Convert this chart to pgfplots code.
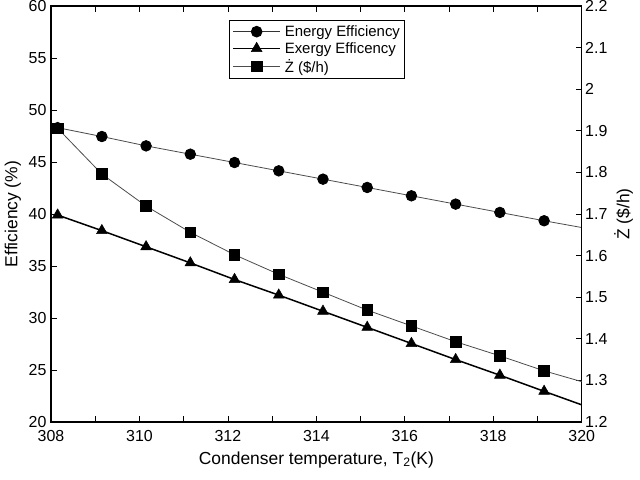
\documentclass[border=0pt]{standalone}
\usepackage{pgfplots}
\pgfplotsset{compat=1.18}
\usepackage{fontspec}
\setmainfont{Liberation Sans}
\begin{document}
\begin{tikzpicture}
\pgfplotsset{
  every axis/.append style={
    scale only axis, width=530.7bp, height=416bp,
    at={(0,0)}, anchor=south west,
    xmin=308, xmax=320,
    tick align=inside,
    major tick length=6bp, minor tick length=6bp,
    tick style={black, line width=0.8bp},
    axis line style={black, line width=1.1bp},
    /pgf/number format/assume math mode=true,
    tick label style={font=\fontsize{16}{18}\selectfont},
    label style={font=\fontsize{17.5}{20}\selectfont},
  }
}
\begin{axis}[
  ymin=20, ymax=60,
  ytick={20,25,...,60},
  xtick={308,310,...,320},
  minor xtick={309,311,...,319},
  xtick pos=both, ytick pos=left,
  xlabel={Condenser temperature, T\textsubscript{2}(K)},
  ylabel={Efficiency (\%)},
  xlabel style={yshift=-3bp},
  ylabel style={yshift=1bp},
  xticklabel style={yshift=-5bp},
  yticklabel style={xshift=-1bp},
]
\addplot[gray!60!black, line width=0.8bp, mark=*, mark size=5.3bp, mark options={fill=black, draw=black, solid}, mark indices={1,...,12}] coordinates {
(308.15,48.3) (309.15,47.45) (310.15,46.55) (311.15,45.75) (312.15,44.95) (313.15,44.15)
(314.15,43.35) (315.15,42.55) (316.15,41.75) (317.15,40.95) (318.15,40.15) (319.15,39.35) (320,38.7)};
\addplot[black, line width=1.5bp, mark=triangle*, mark size=6.2bp, mark options={fill=black, draw=black, line width=0.5bp}, mark indices={1,...,12}] coordinates {
(308.15,39.9) (309.15,38.4) (310.15,36.85) (311.15,35.3) (312.15,33.7) (313.15,32.2)
(314.15,30.65) (315.15,29.1) (316.15,27.55) (317.15,26.0) (318.15,24.5) (319.15,22.95) (320,21.65)};
\end{axis}
\begin{axis}[
  ymin=1.2, ymax=2.2,
  ytick={1.2,1.3,...,2.2},
  yticklabels={1.2,1.3,1.4,1.5,1.6,1.7,1.8,1.9,2,2.1,2.2},
  axis y line*=right, axis x line=none,
  ylabel={Ż (\$/h)},
  legend style={at={(0.3354,0.9663)}, anchor=north west, draw=black, line width=1bp,
    font=\fontsize{15}{17}\selectfont, inner xsep=3bp, inner ysep=3bp, row sep=0.5bp},
  legend cell align=left,
  legend image code/.code={\draw[#1] (0bp,0bp) -- (47bp,0bp); \draw[#1] plot coordinates {(23.5bp,0bp)};},
]
\addlegendimage{gray!40!black, line width=1bp, mark=*, mark size=5.3bp, mark options={fill=black, draw=black}}
\addlegendentry{\hspace{2bp}Energy Efficiency}
\addlegendimage{black, line width=1.3bp, mark=triangle*, mark size=6.2bp, mark options={fill=black, line width=0.5bp}}
\addlegendentry{\hspace{2bp}Exergy Efficency}
\addplot[gray!60!black, line width=0.8bp, mark=square*, mark size=5.3bp, mark options={fill=black, draw=black}, mark indices={1,...,12}] coordinates {
(308.15,1.906) (309.15,1.796) (310.15,1.719) (311.15,1.656) (312.15,1.602) (313.15,1.555)
(314.15,1.512) (315.15,1.469) (316.15,1.431) (317.15,1.393) (318.15,1.359) (319.15,1.323) (320,1.297)};
\addlegendentry{\hspace{2bp}Ż (\$/h)}
\end{axis}
\pgfresetboundingbox
\path[use as bounding box] (-51bp,-58bp) rectangle (589bp,422bp);
\end{tikzpicture}
\end{document}
